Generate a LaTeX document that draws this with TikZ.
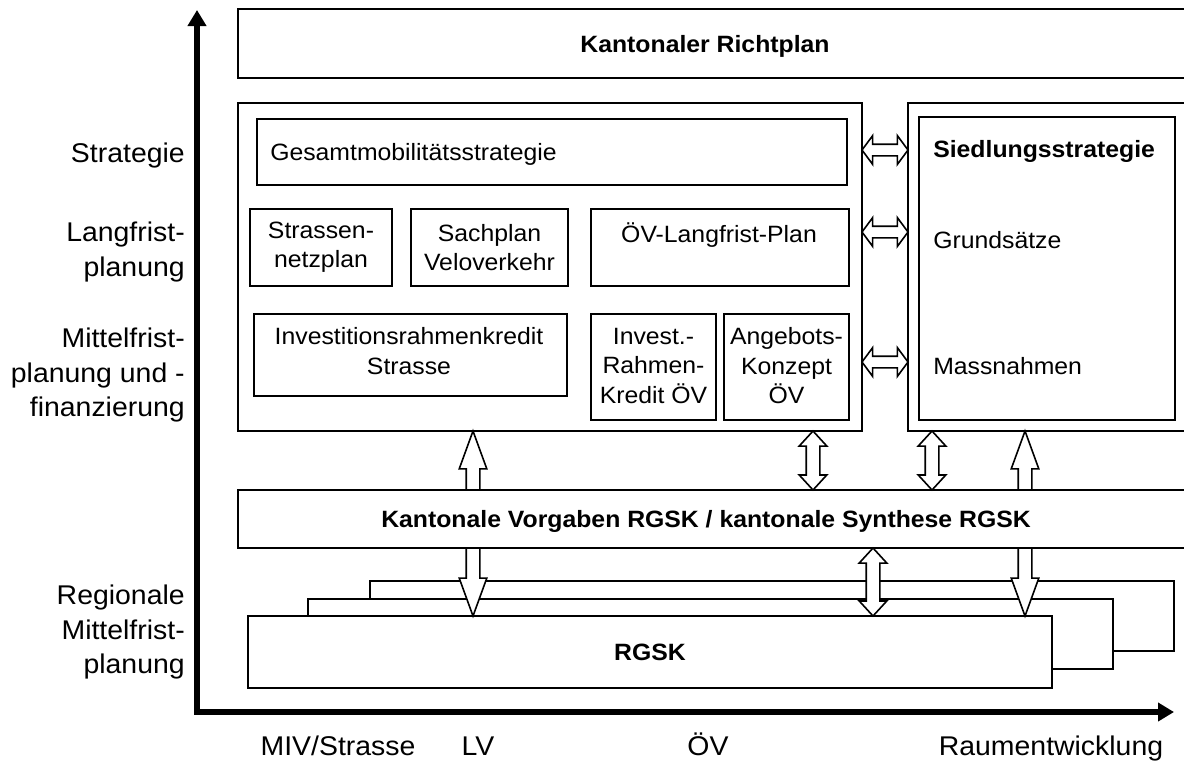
\documentclass[tikz,border=0pt]{standalone}
\usepackage{fontspec}
\setmainfont{Liberation Sans}[FakeStretch=1.05]
\usetikzlibrary{arrows.meta,calc,fit,shapes.arrows}

\newcommand{\pfeil}[4]{\path let \p1=(#3), \p2=(#4), \n1={veclen(\x2-\x1,\y2-\y1)} in node[#1, minimum height=\n1] (#2) at (#3) {};}

\begin{document}
\begin{tikzpicture}[x=0.75pt,y=0.75pt,yscale=-1,xscale=1,
  kasten/.style={draw, line width=1.2pt, fill=white, inner sep=0pt, outer sep=0pt},
  txt/.style={inner sep=0pt, align=center, font=\fontsize{17.7}{22}\selectfont},
  fett/.style={txt, font=\fontsize{17.7}{22}\selectfont\bfseries},
  achse/.style={inner sep=0pt, align=right, anchor=east, font=\fontsize{20.3}{26}\selectfont},
  unten/.style={inner sep=0pt, anchor=base, font=\fontsize{20.3}{26}\selectfont},
  hohlpfeil/.style={single arrow, draw, fill=white, line width=1.2pt, anchor=tail, outer sep=0pt, inner xsep=0pt, inner ysep=4.5pt, minimum width=0pt, single arrow head extend=5.25pt, single arrow tip angle=40},
  doppelpfeil/.style={double arrow, draw, fill=white, line width=1.2pt, anchor=tip 2, outer sep=0pt, inner xsep=0pt, inner ysep=4.5pt, minimum width=0pt, double arrow head extend=5.25pt, double arrow tip angle=85},
  querpfeil/.style={doppelpfeil, inner ysep=3.75pt, double arrow head extend=6.4pt, double arrow tip angle=107}]
\useasboundingbox (0,0) rectangle (1184,765);
\clip (0,0) rectangle (1184,765);

% Achsen
\coordinate (ytop) at (197,10);
\coordinate (ursprung) at (197,712);
\coordinate (xend) at (1174,712);
\draw[line width=3.8pt, line join=miter, {Triangle[length=12pt,width=13.5pt]}-{Triangle[length=12pt,width=13.5pt]}] (ytop) -- (ursprung) -- (xend);

\node[achse] (strat) at (185,155) {Strategie};
\node[achse] (lang) at (185,252) {Langfrist-\\planung};
\node[achse] (mittel) at (185,375) {Mittelfrist-\\planung und -\\finanzierung};
\node[achse] (region) at (185,632) {Regionale\\Mittelfrist-\\planung};

\node[unten] (miv) at (338,755) {MIV/Strasse};
\node[unten] (lv) at (478,755) {LV};
\node[unten] (oev) at (708,755) {ÖV};
\node[unten] (raum) at (1051,755) {Raumentwicklung};

% Kasten oben
\node[kasten, fit={(238,9) (1200,78)}] (richt) {};
\node[fett, anchor=base] (tricht) at (705,52) {Kantonaler Richtplan};

% Verkehr
\node[kasten, fit={(238,103) (862,431)}] (links) {};
\node[kasten, fit={(257,119) (847,185)}] (gesamt) {};
\node[txt, anchor=base west] (tgesamt) at (270,160) {Gesamtmobilitätsstrategie};
\node[kasten, fit={(250,209) (392,286)}] (strnetz) {};
\node[txt] (tstrnetz) at (strnetz.center) {Strassen-\\netzplan};
\node[kasten, fit={(411,209) (568,286)}] (velo) {};
\node[txt] (tvelo) at (velo.center) {Sachplan\\Veloverkehr};
\node[kasten, fit={(591,209) (849,286)}] (oevlang) {};
\node[txt, anchor=base] (toevlang) at (719,242) {ÖV-Langfrist-Plan};
\node[kasten, fit={(254,314) (567,396)}] (invstr) {};
\node[txt] (tinvstr) at (409,351) {Investitionsrahmenkredit\\Strasse};
\node[kasten, fit={(591,314) (716,420)}] (invoev) {};
\node[txt] (tinvoev) at ([yshift=-1]invoev.center) {Invest.-\\Rahmen-\\Kredit ÖV};
\node[kasten, fit={(724,314) (849,420)}] (angebot) {};
\node[txt] (tangebot) at ([yshift=-1]angebot.center) {Angebots-\\Konzept\\ÖV};

% Siedlung
\node[kasten, fit={(908,103) (1200,431)}] (siedl) {};
\node[kasten, fit={(919,117) (1175,420)}] (siedlin) {};
\node[fett, anchor=base west] (tsiedl) at (933,157) {Siedlungsstrategie};
\node[txt, anchor=base west] (grund) at (933,248) {Grundsätze};
\node[txt, anchor=base west] (mass) at (933,374) {Massnahmen};

% Vorgaben und RGSK
\node[kasten, fit={(238,490) (1200,548)}] (vorg) {};
\node[fett, anchor=base] (tvorg) at (706,527) {Kantonale Vorgaben RGSK / kantonale Synthese RGSK};
\node[kasten, fit={(370,581) (1174,651)}] (rgsk3) {};
\node[kasten, fit={(308,599) (1113,669)}] (rgsk2) {};
\node[kasten, fit={(248,616) (1052,688)}] (rgsk1) {};
\node[fett] (trgsk) at (rgsk1.center) {RGSK};

% Pfeile
\coordinate (xLV) at (473,0);
\coordinate (xOEV) at (813,0);
\coordinate (xOEVb) at (873,0);
\coordinate (xSied) at (932,0);
\coordinate (xRaum) at (1025,0);
\coordinate (yS) at (0,150);
\coordinate (yL) at (0,232);
\coordinate (yM) at (0,362);

\pfeil{querpfeil}{q1}{links.east |- yS}{siedl.west |- yS}
\pfeil{querpfeil}{q2}{links.east |- yL}{siedl.west |- yL}
\pfeil{querpfeil}{q3}{links.east |- yM}{siedl.west |- yM}

\pfeil{hohlpfeil, rotate=90}{p1}{xLV |- vorg.north}{xLV |- links.south}
\pfeil{doppelpfeil, rotate=90}{p2}{xOEV |- vorg.north}{xOEV |- links.south}
\pfeil{doppelpfeil, rotate=90}{p3}{xSied |- vorg.north}{xSied |- siedl.south}
\pfeil{hohlpfeil, rotate=90}{p4}{xRaum |- vorg.north}{xRaum |- siedl.south}

\pfeil{hohlpfeil, rotate=-90}{p5}{xLV |- vorg.south}{xLV |- rgsk1.north}
\pfeil{doppelpfeil, rotate=-90}{p6}{xOEVb |- vorg.south}{xOEVb |- rgsk1.north}
\pfeil{hohlpfeil, rotate=-90}{p7}{xRaum |- vorg.south}{xRaum |- rgsk1.north}
\end{tikzpicture}
\end{document}
